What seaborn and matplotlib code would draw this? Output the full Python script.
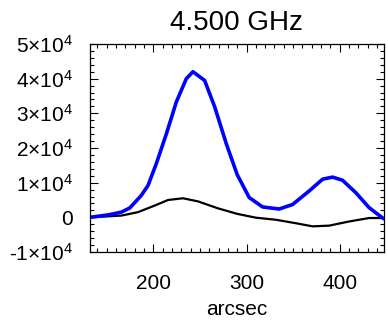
import numpy as np
import pandas as pd
import matplotlib
matplotlib.use("Agg")
import matplotlib.pyplot as plt
from matplotlib.ticker import MultipleLocator, FixedLocator
import seaborn as sns

# data
blue_x = [132, 151.5, 165.7, 174.7, 187, 194.3, 203.2, 214, 224.7, 235.4, 242.5, 255,
          265.8, 278.2, 290, 302.9, 317.2, 335, 349.4, 367.2, 381.6, 392.3, 403, 417.3,
          431.5, 447]
blue_y = [0, 700, 1500, 2700, 6300, 9200, 15500, 24100, 33300, 40000, 42000, 39500,
          31900, 21300, 12300, 5700, 3000, 2400, 3700, 7600, 11000, 11600, 10700, 7100,
          2800, -400]
black_x = [132, 165.7, 183.6, 201.5, 215.8, 231.8, 247.9, 269.3, 290, 310, 331.5, 353,
           370.8, 388.6, 410, 431.5, 447]
black_y = [0, 500, 1500, 3400, 5000, 5500, 4600, 2600, 1000, -100, -700, -1700, -2600,
           -2400, -1200, -200, -200]

yticks = [-1e4, 0, 1e4, 2e4, 3e4, 4e4, 5e4]
ytick_labels = [r"-1$\times$10$^{4}$", "0", r"1$\times$10$^{4}$", r"2$\times$10$^{4}$",
                r"3$\times$10$^{4}$", r"4$\times$10$^{4}$", r"5$\times$10$^{4}$"]
xticks = [200, 300, 400]
title = "4.500 GHz"
xlabel = "arcsec"

plt.rcParams["font.family"] = ["Liberation Sans", "DejaVu Sans"]
plt.rcParams["mathtext.fontset"] = "custom"
plt.rcParams["mathtext.rm"] = "Liberation Sans"
plt.rcParams["mathtext.it"] = "Liberation Sans"
plt.rcParams["mathtext.default"] = "regular"
plt.rcParams["lines.solid_joinstyle"] = "round"
plt.rcParams["lines.solid_capstyle"] = "round"

df_blue = pd.DataFrame({"x": blue_x, "y": blue_y})
df_black = pd.DataFrame({"x": black_x, "y": black_y})

fig = plt.figure(figsize=(3.88, 3.26), dpi=100)
ax = fig.add_axes([89.5 / 388, 1 - 252 / 326, (384 - 89.5) / 388, (252 - 44) / 326])

sns.lineplot(data=df_black, x="x", y="y", ax=ax, color="black", lw=1.6, sort=False)
sns.lineplot(data=df_blue, x="x", y="y", ax=ax, color="#0000ff", lw=2.6, sort=False)

ax.set_xlim(131.5, 447.5)
ax.set_ylim(-1e4, 5e4)
ax.xaxis.set_major_locator(FixedLocator(xticks))
ax.xaxis.set_minor_locator(MultipleLocator(10))
ax.yaxis.set_major_locator(FixedLocator(yticks))
ax.yaxis.set_minor_locator(MultipleLocator(2000))
ax.set_yticklabels(ytick_labels)

ax.tick_params(which="both", direction="in", top=True, right=True, bottom=True, left=True,
               width=0.8, color="black")
ax.tick_params(which="major", length=5.5)
ax.tick_params(which="minor", length=3)
ax.tick_params(axis="x", which="major", labelsize=15, pad=16)
ax.tick_params(axis="y", which="major", labelsize=15, pad=12)
for s in ax.spines.values():
    s.set_linewidth(0.9)
    s.set_color("black")

ax.set_xlabel(xlabel, fontsize=15, labelpad=5)
ax.set_ylabel("")
ax.set_title(title, fontsize=20, pad=10)

fig.savefig("out.png", dpi=100)
